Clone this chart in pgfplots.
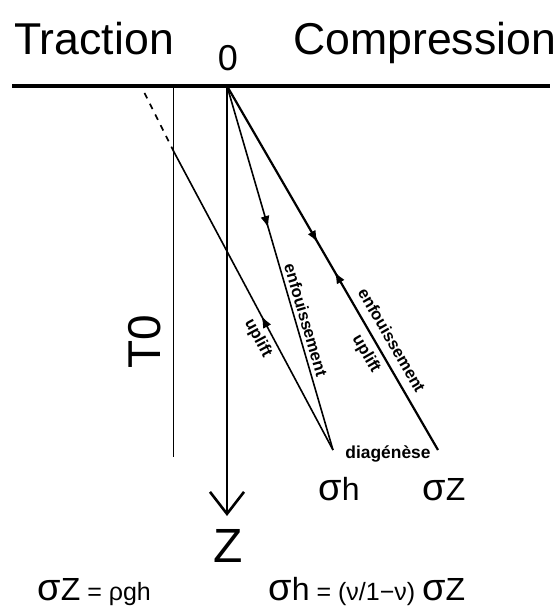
\documentclass[border=0pt]{standalone}
\usepackage{fontspec}
\setmainfont{Liberation Sans}
\usepackage{pgfplots}
\pgfplotsset{compat=1.18}
\usetikzlibrary{arrows.meta,decorations.markings}

\newcommand{\fs}[1]{\fontsize{#1}{1.1\dimexpr#1pt\relax}\selectfont}
\tikzset{
  tip/.tip={Latex[length=6pt,width=4.5pt]},
  midarrow/.style={postaction={decorate},
    decoration={markings, mark=at position #1 with {\arrow{tip}}}},
  txt/.style={inner sep=0pt},
  lbl/.style={inner sep=0pt, font=\bfseries\fs{8.3}},
}

\begin{document}
\begin{tikzpicture}
\begin{axis}[
    hide axis,
    scale only axis,
    width=280pt, height=306pt,
    xmin=0, xmax=560, ymin=0, ymax=612,
    y dir=reverse,
    clip=false,
]
% surface line and depth axis
\addplot[black, line width=1.6pt] coordinates {(12,86) (550,86)};
\addplot[black, line width=1.3pt, -{Straight Barb[length=11pt,width=17pt]}] coordinates {(227,86) (227,516)};
% tensile strength T0
\addplot[black, line width=0.5pt] coordinates {(173,86) (173,457)};
% sigma h: burial then uplift
\addplot[black, line width=0.8pt, midarrow=0.39] coordinates {(227,86) (333,450)};
\addplot[black, line width=0.8pt, midarrow=0.45] coordinates {(333,450) (174,152)};
\addplot[black, line width=0.8pt, dashed] coordinates {(174,152) (141,86)};
% sigma z
\addplot[black, line width=1.1pt, postaction={decorate},
    decoration={markings,
      mark=at position 0.43 with {\arrow{tip}},
      mark=at position 0.51 with {\arrowreversed{tip}}}]
    coordinates {(227,86) (438,450)};

% titles
\node[txt, anchor=base west, font=\fs{22.3}] at (axis cs:14,54) {Traction};
\node[txt, anchor=base west, font=\fs{22.3}] at (axis cs:293,54) {Compression};
\node[txt, anchor=base, font=\fs{18}] at (axis cs:228,70) {0};
\node[txt, rotate=90, font=\fs{23}] at (axis cs:145,342) {T0};
\node[txt, anchor=base, font=\fs{24}] at (axis cs:228,562) {Z};

% path labels
\node[lbl, rotate=-73.8] at (axis cs:306,320) {enfouissement};
\node[lbl, rotate=-61.9] at (axis cs:258,338) {uplift};
\node[lbl, rotate=-59.9] at (axis cs:392,340) {enfouissement};
\node[lbl, rotate=-59.9] at (axis cs:366,354) {uplift};
\node[lbl, font=\bfseries\fs{8.7}] at (axis cs:388,454) {diagénèse};

% end-member labels
\node[txt, anchor=base west] at (axis cs:318,500) {\fs{19}σ\fs{16}h};
\node[txt, anchor=base west] at (axis cs:422,500) {\fs{19}σ\fs{16}Z};

% formulas
\node[txt, anchor=base west] at (axis cs:37,600) {\fs{19}σ\fs{16}Z\fs{12.5} = ρgh};
\node[txt, anchor=base west] at (axis cs:268,600) {\fs{19}σ\fs{16}h\fs{12.5} = (ν/1−ν) \fs{19}σ\fs{16}Z};
\end{axis}
\pgfresetboundingbox
\path (current axis.south west) rectangle (current axis.north east);
\end{tikzpicture}
\end{document}
